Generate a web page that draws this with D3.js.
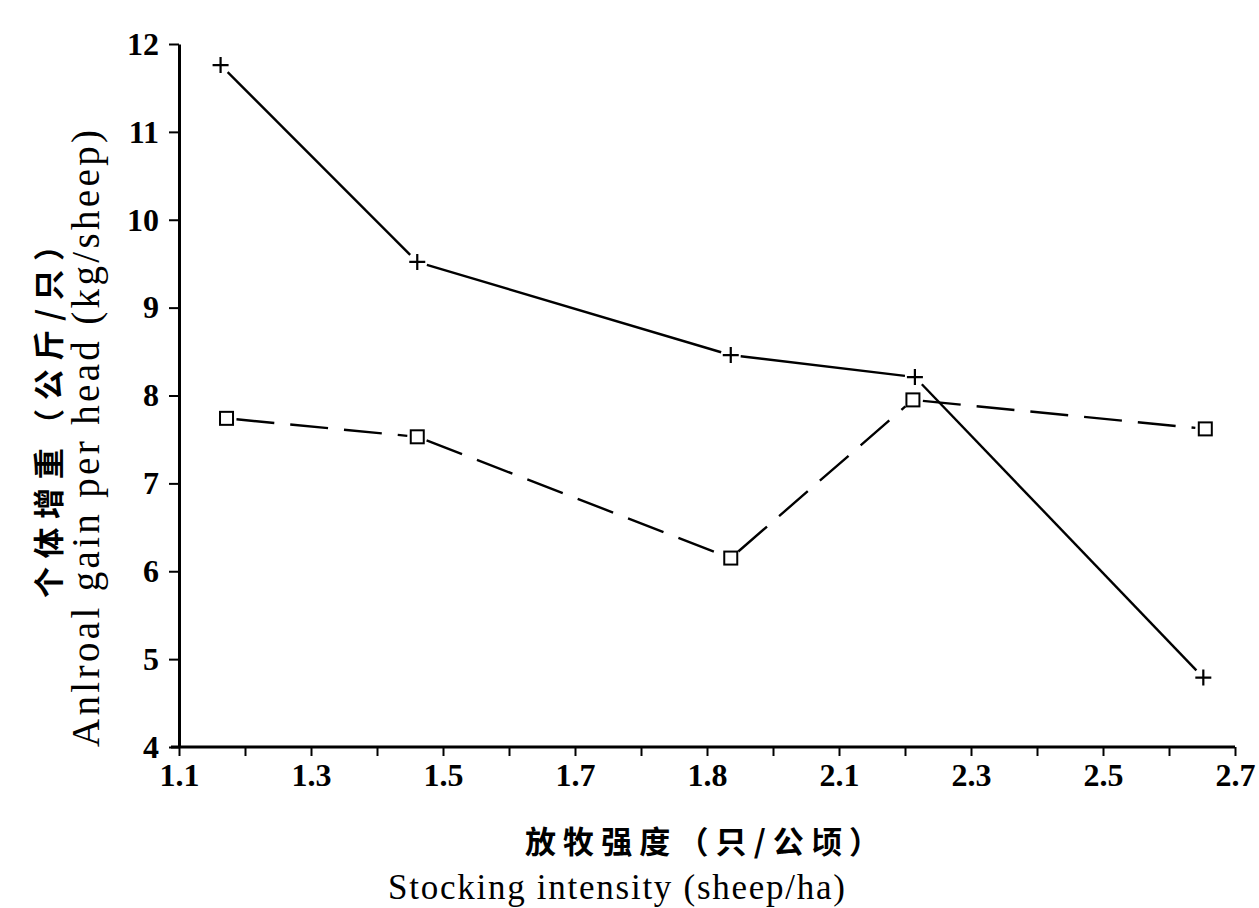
<!DOCTYPE html>
<html>
<head>
<meta charset="utf-8">
<script src="https://cdn.jsdelivr.net/npm/d3@7"></script>
<style>
  html, body { margin: 0; padding: 0; background: #fff; }
  svg { display: block; }
  .num { font-family: "Liberation Serif", "DejaVu Serif", serif; font-weight: bold; }
  .cjk { font-family: "Noto Sans CJK SC", sans-serif; font-weight: bold; }
</style>
</head>
<body>
<div id="graph"></div>
<script>
// values
var stockPlus = [1.163, 1.461, 1.936, 2.215, 2.652];
var gainPlus = [11.76, 9.52, 8.46, 8.21, 4.79];
var stockSquare = [1.172, 1.461, 1.936, 2.212, 2.655];
var gainSquare = [7.74, 7.53, 6.15, 7.95, 7.62];

var xTickValues = [1.1, 1.3, 1.5, 1.7, 1.9, 2.1, 2.3, 2.5, 2.7];
var xTickLabels = ["1.1", "1.3", "1.5", "1.7", "1.8", "2.1", "2.3", "2.5", "2.7"];
var xMinorTicks = [1.1, 1.2, 1.3, 1.4, 1.5, 1.6, 1.7, 1.8, 1.9, 2.0, 2.1, 2.2, 2.3, 2.4, 2.5, 2.6, 2.7];
var yTickValues = [4, 5, 6, 7, 8, 9, 10, 11, 12];

var yTitleCn = "个体增重（公斤/只）";
var yTitleEn = "Anlroal gain per head (kg/sheep)";
var xTitleCn = "放牧强度（只/公顷）";
var xTitleEn = "Stocking intensity (sheep/ha)";

function buildGraph() {
    var margin = {
            top: 44,
            right: 24,
            bottom: 161,
            left: 179
        },
        width = 1259 - margin.left - margin.right,
        height = 908 - margin.top - margin.bottom;

    var svg = d3
        .select("#graph")
        .append("svg")
        .attr("width", 1259)
        .attr("height", 908)
        .append("g")
        .attr("transform", "translate(" + margin.left + "," + margin.top + ")");

    var x = d3.scaleLinear().domain([1.1, 2.7]).range([0, width]);
    var y = d3.scaleLinear().domain([4, 12]).range([height, 0]);

    // x axis: minor ticks every 0.1, labels every 0.2
    var xAxis = svg.append("g")
        .attr("transform", "translate(0," + height + ")")
        .call(d3.axisBottom(x).tickValues(xMinorTicks).tickSize(9).tickSizeOuter(0).tickFormat(""));
    xAxis.select(".domain").attr("stroke-width", 3).attr("d", "M-8,0H" + width);
    xAxis.selectAll(".tick line").attr("stroke-width", 2);

    var xLabels = svg.append("g")
        .attr("transform", "translate(0," + height + ")")
        .call(d3.axisBottom(x).tickValues(xTickValues).tickSize(0)
            .tickFormat(function(d, i) { return xTickLabels[i]; }));
    xLabels.select(".domain").remove();
    xLabels.selectAll("text")
        .attr("class", "num")
        .attr("y", 16)
        .attr("dy", "0.71em")
        .style("font-size", "32px")
        .attr("fill", "#000");

    // y axis
    var yAxis = svg.append("g")
        .call(d3.axisLeft(y).tickValues(yTickValues).tickSize(10).tickSizeOuter(0));
    yAxis.select(".domain").attr("stroke-width", 3);
    yAxis.selectAll(".tick line").attr("stroke-width", 2);
    yAxis.selectAll("text")
        .attr("class", "num")
        .attr("x", -20)
        .style("font-size", "32px")
        .attr("fill", "#000");

    // axis titles
    svg.append("text")
        .attr("class", "cjk")
        .attr("transform", "rotate(-90)")
        .attr("x", -(598 - margin.top))
        .attr("y", 60 - margin.left)
        .attr("textLength", 368)
        .attr("lengthAdjust", "spacing")
        .style("font-size", "31px")
        .text(yTitleCn);

    svg.append("text")
        .attr("class", "num")
        .attr("transform", "rotate(-90)")
        .attr("x", -(747 - margin.top))
        .attr("y", 99 - margin.left)
        .attr("textLength", 617)
        .attr("lengthAdjust", "spacing")
        .style("font-size", "39px")
        .style("font-weight", "normal")
        .text(yTitleEn);

    svg.append("text")
        .attr("class", "cjk")
        .attr("x", 525 - margin.left)
        .attr("y", 853 - margin.top)
        .attr("textLength", 355)
        .attr("lengthAdjust", "spacing")
        .style("font-size", "31px")
        .text(xTitleCn);

    svg.append("text")
        .attr("class", "num")
        .attr("x", 388 - margin.left)
        .attr("y", 899 - margin.top)
        .attr("textLength", 457)
        .attr("lengthAdjust", "spacing")
        .style("font-size", "35px")
        .style("font-weight", "normal")
        .text(xTitleEn);

    // lines stop a little short of each marker, as in the print
    function drawSeries(xs, ys, dash) {
        var pts = xs.map(function(d, i) { return [x(d), y(ys[i])]; });
        var gap = 10;
        var segs = [];
        for (var i = 0; i < pts.length - 1; i++) {
            var a = pts[i], b = pts[i + 1];
            var dx = b[0] - a[0], dy = b[1] - a[1];
            var len = Math.sqrt(dx * dx + dy * dy);
            var ux = dx / len, uy = dy / len;
            segs.push([a[0] + ux * gap, a[1] + uy * gap, b[0] - ux * gap, b[1] - uy * gap]);
        }
        svg.append("g").selectAll("line")
            .data(segs)
            .enter()
            .append("line")
            .attr("x1", function(d) { return d[0]; })
            .attr("y1", function(d) { return d[1]; })
            .attr("x2", function(d) { return d[2]; })
            .attr("y2", function(d) { return d[3]; })
            .attr("stroke", "#000")
            .attr("stroke-width", 2.4)
            .attr("stroke-dasharray", dash);
        return pts;
    }

    var plusPts = drawSeries(stockPlus, gainPlus, null);
    var squarePts = drawSeries(stockSquare, gainSquare, "38,16");

    svg.append("g").selectAll("path")
        .data(plusPts)
        .enter()
        .append("path")
        .attr("d", function(d) {
            return "M" + (d[0] - 8) + "," + d[1] + "H" + (d[0] + 8) +
                "M" + d[0] + "," + (d[1] - 8) + "V" + (d[1] + 8);
        })
        .attr("stroke", "#000")
        .attr("stroke-width", 2.2)
        .attr("fill", "none");

    svg.append("g").selectAll("rect")
        .data(squarePts)
        .enter()
        .append("rect")
        .attr("x", function(d) { return d[0] - 6.5; })
        .attr("y", function(d) { return d[1] - 6.5; })
        .attr("width", 13)
        .attr("height", 13)
        .attr("stroke", "#000")
        .attr("stroke-width", 2)
        .attr("fill", "#fff");
}

window.addEventListener("load", buildGraph);
</script>
</body>
</html>
